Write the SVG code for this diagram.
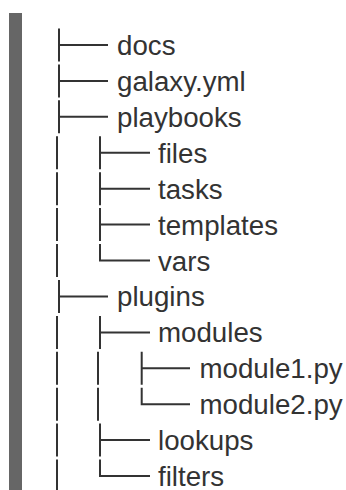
<svg xmlns="http://www.w3.org/2000/svg" width="346" height="490" viewBox="0 0 346 490">
<style>
.t{font-family:"Liberation Sans",Arial,sans-serif;font-size:27.7px;fill:#333}
.c{stroke:#333;stroke-width:2;fill:none}
</style>
<rect x="0" y="0" width="346" height="490" fill="#fff"/>
<rect x="9" y="13" width="13" height="477" fill="#666"/>
<g id="connectors" class="c">
<!-- level 1 -->
<path d="M59 28.5V61.5M59 45H108"/>
<path d="M59 64.4V97.4M59 80.9H108"/>
<path d="M59 100.3V133.3M59 116.8H108"/>
<path d="M57 136.3V169.3M57 172.2V205.2M57 208.1V241.1M57 244V277"/>
<path d="M59 279.9V312.9M59 296.4H108"/>
<path d="M57 315.9V348.9M57 351.8V384.8M57 387.7V420.7M57 423.6V456.6M57 459.5V490"/>
<!-- level 2 playbooks -->
<path d="M100 136.3V169.3M100 152.8H150"/>
<path d="M100 172.2V205.2M100 188.7H150"/>
<path d="M100 208.1V241.1M100 224.6H150"/>
<path d="M100 244V260.5H150"/>
<!-- level 2 plugins -->
<path d="M100 315.9V348.9M100 332.4H150"/>
<path d="M98 351.8V384.8M98 387.7V420.7"/>
<path d="M100 423.6V456.6M100 440.1H150"/>
<path d="M100 459.5V476H150"/>
<!-- level 3 modules -->
<path d="M141.7 351.8V384.8M141.7 368.3H190"/>
<path d="M141.7 387.7V404.2H190"/>
</g>
<g id="docs"><text class="t" x="117" y="55">docs</text></g>
<g id="galaxy"><text class="t" x="117" y="90.9">galaxy.yml</text></g>
<g id="playbooks"><text class="t" x="117" y="126.8">playbooks</text></g>
<g id="files"><text class="t" x="158" y="162.8">files</text></g>
<g id="tasks"><text class="t" x="158" y="198.7">tasks</text></g>
<g id="templates"><text class="t" x="158" y="234.6">templates</text></g>
<g id="vars"><text class="t" x="158" y="270.5">vars</text></g>
<g id="plugins"><text class="t" x="117" y="306.4">plugins</text></g>
<g id="modules"><text class="t" x="158" y="342.4">modules</text></g>
<g id="module1"><text class="t" x="199.5" y="378.3">module1.py</text></g>
<g id="module2"><text class="t" x="199.5" y="414.2">module2.py</text></g>
<g id="lookups"><text class="t" x="158" y="450.1">lookups</text></g>
<g id="filters"><text class="t" x="158" y="486">filters</text></g>
</svg>
